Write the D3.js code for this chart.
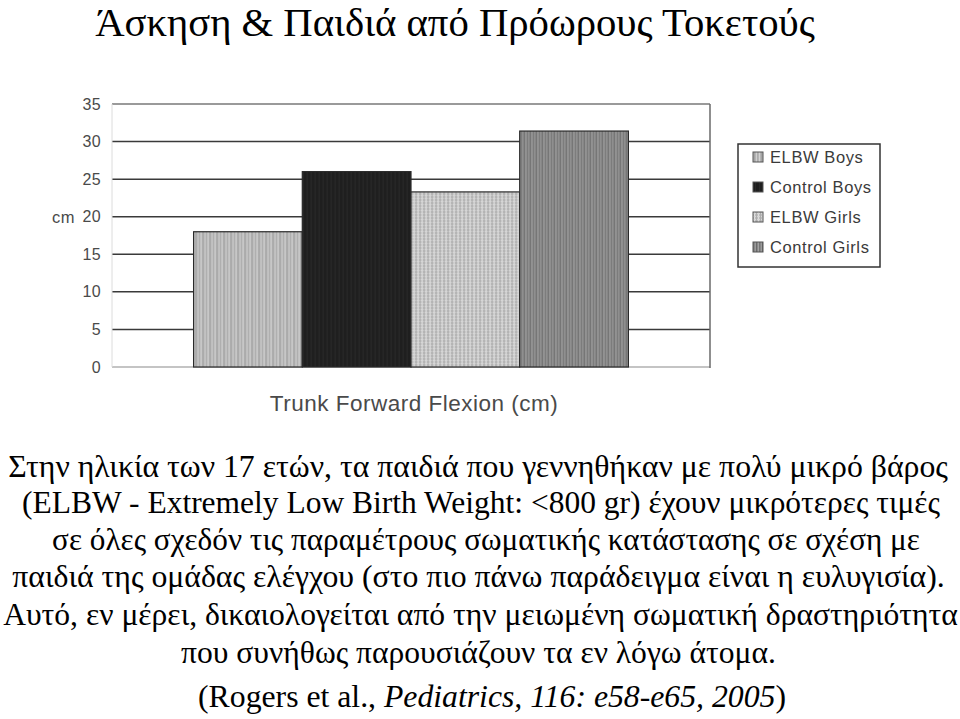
<!DOCTYPE html>
<html>
<head>
<meta charset="utf-8">
<script src="https://cdn.jsdelivr.net/npm/d3@7"></script>
<style>
  body { margin: 0; background: #fff; }
  svg { display: block; }
</style>
</head>
<body>
<div id="chart"></div>
<script>
// Data
const title = "Άσκηση & Παιδιά από Πρόωρους Τοκετούς";
const category = "Trunk Forward Flexion (cm)";
const series = ["ELBW Boys", "Control Boys", "ELBW Girls", "Control Girls"];
const values = [18.0, 26.0, 23.3, 31.4];
const yTicks = [0, 5, 10, 15, 20, 25, 30, 35];
const yLabel = "cm";
const captionLines = [
    "Στην ηλικία των 17 ετών, τα παιδιά που γεννηθήκαν με πολύ μικρό βάρος",
    "(ELBW - Extremely Low Birth Weight: <800 gr) έχουν μικρότερες τιμές",
    "σε όλες σχεδόν τις παραμέτρους σωματικής κατάστασης σε σχέση με",
    "παιδιά της ομάδας ελέγχου (στο πιο πάνω παράδειγμα είναι η ευλυγισία).",
    "Αυτό, εν μέρει, δικαιολογείται από την μειωμένη σωματική δραστηριότητα",
    "που συνήθως παρουσιάζουν τα εν λόγω άτομα."
];
const citation = [
    { text: "(Rogers et al., ", italic: false },
    { text: "Pediatrics, 116: e58-e65, 2005", italic: true },
    { text: ")", italic: false }
];

const width = 960, height = 719;
const plot = { left: 112, right: 710, top: 104, bottom: 367 };

const svg = d3.select("#chart").append("svg")
    .attr("width", width)
    .attr("height", height);

// Fill patterns for the scanned look
const defs = svg.append("defs");

function stripes(id, base, w, lines) {
    const p = defs.append("pattern")
        .attr("id", id)
        .attr("patternUnits", "userSpaceOnUse")
        .attr("width", w).attr("height", 4);
    p.append("rect").attr("width", w).attr("height", 4).attr("fill", base);
    lines.forEach(l => {
        p.append("rect").attr("x", l[0]).attr("width", l[1]).attr("height", 4).attr("fill", l[2]);
    });
}

stripes("p0", "#b4b4b4", 7, [[0, 1, "#d4d4d4"], [2, 1, "#a4a4a4"], [4, 1, "#cfcfcf"], [5, 1, "#acacac"]]);
stripes("p1", "#1f1f1f", 4, [[1, 1, "#2a2a2a"]]);
stripes("p3", "#878787", 6, [[0, 1, "#6a6a6a"], [2, 1, "#a2a2a2"], [3, 1, "#747474"], [5, 1, "#9a9a9a"]]);

const grid = defs.append("pattern")
    .attr("id", "p2")
    .attr("patternUnits", "userSpaceOnUse")
    .attr("width", 4).attr("height", 3);
grid.append("rect").attr("width", 4).attr("height", 3).attr("fill", "#bdbdbd");
grid.append("rect").attr("x", 0).attr("width", 1).attr("height", 3).attr("fill", "#dedede");
grid.append("rect").attr("y", 0).attr("width", 4).attr("height", 1).attr("fill", "#d6d6d6");
grid.append("rect").attr("x", 2).attr("width", 1).attr("height", 3).attr("fill", "#adadad");

const fills = ["url(#p0)", "url(#p1)", "url(#p2)", "url(#p3)"];

// Scales
const y = d3.scaleLinear().domain([0, 35]).range([plot.bottom, plot.top]);
const x0 = d3.scaleBand().domain([category]).range([plot.left, plot.right]).padding(0.158);
const x1 = d3.scaleBand().domain(series).range([0, x0.bandwidth()]).padding(0);

// Grid lines
svg.append("g").selectAll("line")
    .data(yTicks)
    .enter().append("line")
    .attr("x1", plot.left).attr("x2", plot.right)
    .attr("y1", d => y(d)).attr("y2", d => y(d))
    .attr("stroke", d => d === 35 ? "#9a9a9a" : d === 0 ? "#b0b0b0" : "#3a3a3a")
    .attr("stroke-width", d => d === 35 ? 2 : 1.5);

// Frame sides
svg.append("line")
    .attr("x1", plot.right).attr("x2", plot.right)
    .attr("y1", y(35)).attr("y2", y(0) + 1)
    .attr("stroke", "#6a6a6a").attr("stroke-width", 1.5);
svg.append("line")
    .attr("x1", plot.left).attr("x2", plot.left)
    .attr("y1", y(35)).attr("y2", y(0))
    .attr("stroke", "#dcdcdc").attr("stroke-width", 1);

// Bars
svg.append("g")
    .attr("transform", `translate(${x0(category)},0)`)
    .selectAll("rect")
    .data(series.map((s, i) => ({ s, v: values[i], i })))
    .enter().append("rect")
    .attr("x", d => x1(d.s))
    .attr("y", d => y(d.v))
    .attr("width", x1.bandwidth())
    .attr("height", d => y(0) - y(d.v))
    .attr("fill", d => fills[d.i])
    .attr("stroke", "#2a2a2a")
    .attr("stroke-width", 1.2);

// Y axis labels
const yAxis = svg.append("g")
    .attr("transform", `translate(${plot.left},0)`)
    .call(d3.axisLeft(y).tickValues(yTicks).tickSize(0).tickPadding(11));
yAxis.select(".domain").remove();
yAxis.selectAll("text")
    .attr("fill", "#4a4a4a")
    .attr("font-family", "Liberation Sans, Arial, sans-serif")
    .attr("font-size", 16)
    .attr("letter-spacing", 0.4);

svg.append("text")
    .attr("x", 52).attr("y", y(20) + 6)
    .attr("fill", "#4a4a4a")
    .attr("font-family", "Liberation Sans, Arial, sans-serif")
    .attr("font-size", 16.5)
    .attr("letter-spacing", 0.5)
    .text(yLabel);

// X title
svg.append("text")
    .attr("x", 414).attr("y", 411)
    .attr("text-anchor", "middle")
    .attr("fill", "#4a4a4a")
    .attr("font-family", "Liberation Sans, Arial, sans-serif")
    .attr("font-size", 22.5)
    .attr("letter-spacing", 0.5)
    .text(category);

// Legend
const legend = svg.append("g").attr("transform", "translate(738,144)");
legend.append("rect")
    .attr("width", 142).attr("height", 123)
    .attr("fill", "#fff")
    .attr("stroke", "#333").attr("stroke-width", 1.5);
series.forEach((s, i) => {
    const ly = 13 + i * 30;
    legend.append("rect")
        .attr("x", 15).attr("y", ly - 5)
        .attr("width", 10).attr("height", 10)
        .attr("fill", fills[i])
        .attr("stroke", "#555").attr("stroke-width", 1);
    legend.append("text")
        .attr("x", 32).attr("y", ly + 6)
        .attr("fill", "#3a3a3a")
        .attr("font-family", "Liberation Sans, Arial, sans-serif")
        .attr("font-size", 16.5)
        .attr("letter-spacing", 0.6)
        .text(s);
});

// Condensed serif text: squeeze each line to the width it takes in the picture
function fitLine(sel, left, right, baseline) {
    const w = sel.node().getComputedTextLength();
    const sx = (right - left) / w;
    sel.attr("transform", `translate(${(left + right) / 2},${baseline}) scale(${sx},1)`);
}

const serif = "'Liberation Serif', 'Times New Roman', serif";

const t = svg.append("text")
    .attr("text-anchor", "middle")
    .attr("font-family", serif)
    .attr("font-size", 40)
    .attr("fill", "#000")
    .text(title);
fitLine(t, 95, 815, 36);

const lineBox = [[8, 948, 477], [22, 940, 513], [52, 920, 550], [12, 945, 587], [3, 958, 625], [181, 776, 663]];
captionLines.forEach((line, i) => {
    const el = svg.append("text")
        .attr("text-anchor", "middle")
        .attr("font-family", serif)
        .attr("font-size", 32)
        .attr("fill", "#000")
        .text(line);
    fitLine(el, lineBox[i][0], lineBox[i][1], lineBox[i][2]);
});

const cite = svg.append("text")
    .attr("text-anchor", "middle")
    .attr("font-family", serif)
    .attr("font-size", 32)
    .attr("fill", "#000");
citation.forEach(part => {
    cite.append("tspan")
        .attr("font-style", part.italic ? "italic" : "normal")
        .text(part.text);
});
fitLine(cite, 198, 786, 707);
</script>
</body>
</html>
